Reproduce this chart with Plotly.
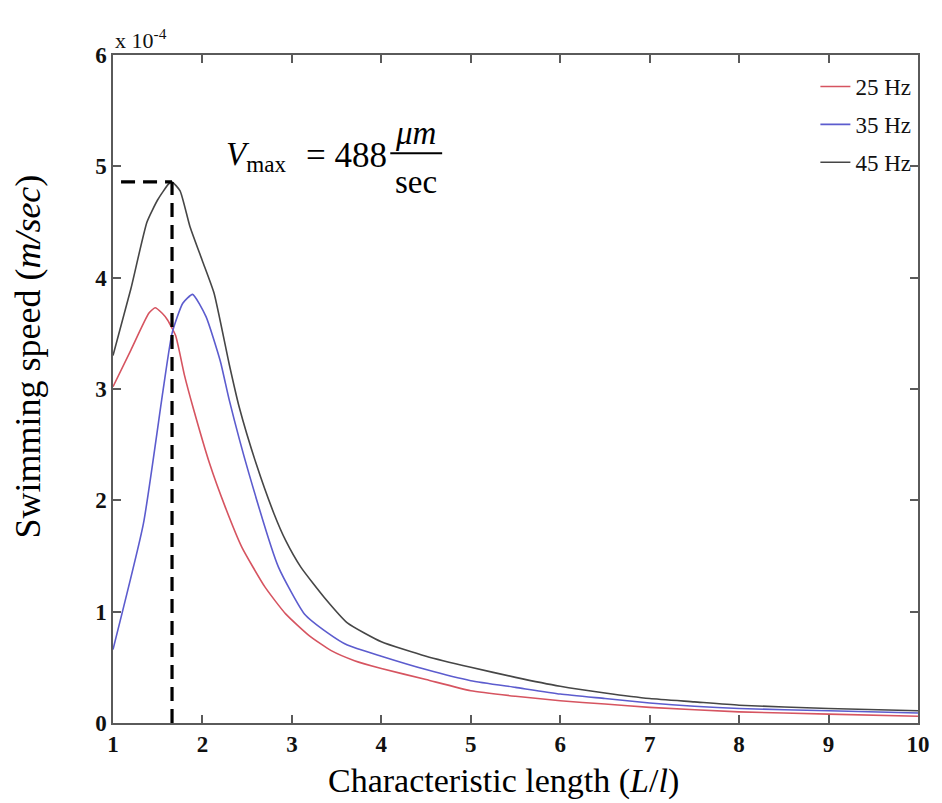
import plotly.graph_objects as go

# Data (swimming speed in units of 1e-4 m/s)
x_45 = [1.0, 1.2, 1.38, 1.5, 1.62, 1.66, 1.75, 1.86, 2.0, 2.13, 2.3, 2.41, 2.6, 2.8, 2.93, 3.1, 3.36, 3.62,
        4.0, 4.5, 5.0, 5.5, 6.0, 6.5, 7.0, 7.5, 8.0, 9.0, 10.0]
y_45 = [3.30, 3.90, 4.50, 4.70, 4.84, 4.86, 4.78, 4.46, 4.15, 3.86, 3.22, 2.84, 2.33, 1.88, 1.64, 1.40, 1.13, 0.90,
        0.73, 0.60, 0.50, 0.41, 0.33, 0.27, 0.22, 0.19, 0.16, 0.13, 0.11]

x_25 = [1.0, 1.2, 1.4, 1.47, 1.55, 1.61, 1.7, 1.8, 1.9, 2.08, 2.25, 2.44, 2.7, 2.93, 3.2, 3.44, 3.7,
        4.0, 4.5, 5.0, 5.5, 6.0, 6.5, 7.0, 8.0, 9.0, 10.0]
y_25 = [3.02, 3.35, 3.68, 3.73, 3.68, 3.62, 3.48, 3.12, 2.82, 2.33, 1.95, 1.58, 1.22, 0.98, 0.78, 0.65, 0.56,
        0.49, 0.39, 0.29, 0.24, 0.20, 0.17, 0.14, 0.10, 0.08, 0.06]

x_35 = [1.0, 1.34, 1.56, 1.66, 1.78, 1.89, 2.04, 2.2, 2.3, 2.52, 2.85, 3.14, 3.4, 3.62,
        4.0, 4.5, 5.0, 5.5, 6.0, 6.5, 7.0, 7.5, 8.0, 9.0, 10.0]
y_35 = [0.66, 1.79, 2.99, 3.50, 3.77, 3.85, 3.65, 3.25, 2.90, 2.24, 1.40, 0.98, 0.81, 0.70,
        0.60, 0.48, 0.38, 0.32, 0.26, 0.22, 0.18, 0.15, 0.13, 0.11, 0.09]

x_ticks = [1, 2, 3, 4, 5, 6, 7, 8, 9, 10]
y_ticks = [0, 1, 2, 3, 4, 5, 6]
v_max_label = 488

SERIF = "Liberation Serif"

fig = go.Figure()
series = [("25 Hz", x_25, y_25, "rgb(214,84,96)"),
          ("35 Hz", x_35, y_35, "rgb(92,92,206)"),
          ("45 Hz", x_45, y_45, "rgb(70,70,70)")]
for name, xs, ys, col in series:
    fig.add_trace(go.Scatter(x=xs, y=ys, mode="lines", name=name, legendgroup=name,
                             line=dict(color=col, width=1.6, shape="spline", smoothing=0.5)))

# peak of 45 Hz curve
i_pk = max(range(len(y_45)), key=lambda i: y_45[i])
x_pk, y_pk = x_45[i_pk], y_45[i_pk]

dash_line = dict(color="black", width=3.2, dash="14px,8px")
fig.add_trace(go.Scatter(x=[x_pk, x_pk], y=[0, y_pk], mode="lines", showlegend=False, line=dash_line))
fig.add_trace(go.Scatter(x=[1.09, x_pk], y=[y_pk, y_pk], mode="lines", showlegend=False, line=dash_line))

axis_common = dict(showline=True, linecolor="rgb(90,90,90)", linewidth=1.5, mirror="ticks",
                   ticks="inside", ticklen=8, tickcolor="rgb(90,90,90)", tickwidth=1.5,
                   showgrid=False, zeroline=False,
                   tickfont=dict(family=SERIF, size=23, color="#111", weight="bold"))

fig.update_xaxes(range=[1, 10], tickvals=x_ticks, ticktext=[str(v) for v in x_ticks], **axis_common)
fig.update_yaxes(range=[0, 6], tickvals=y_ticks, ticktext=[str(v) for v in y_ticks], **axis_common)

ann_font = dict(family=SERIF, size=33, color="black")
fig.update_layout(
    width=942, height=803,
    margin=dict(l=113, r=14, t=55, b=80),
    plot_bgcolor="white", paper_bgcolor="white",
    legend=dict(x=0.998, y=0.985, xanchor="right", yanchor="top",
                font=dict(family=SERIF, size=23, color="#111"),
                bgcolor="rgba(255,255,255,0)", borderwidth=0, tracegroupgap=5),
    annotations=[
        dict(xref="paper", yref="paper", x=0.0, y=1.0, xanchor="left", yanchor="bottom",
             text="x 10<sup>-4</sup>", showarrow=False,
             font=dict(family=SERIF, size=22, color="#111")),
        # axis titles
        dict(xref="paper", yref="paper", x=0.485, y=-0.087, xanchor="center", yanchor="middle",
             text="Characteristic length (<i>L</i>/<i>l</i>)", showarrow=False,
             font=dict(family=SERIF, size=34, color="black")),
        dict(xref="paper", yref="paper", x=-0.106, y=0.548, xanchor="center", yanchor="middle",
             text="Swimming speed (<i>m/sec</i>)", showarrow=False, textangle=-90,
             font=dict(family=SERIF, size=36, color="black")),
        # V_max label
        dict(xref="x", yref="y", x=2.24, y=5.09, xanchor="left", yanchor="middle",
             text="<i>V</i><sub>max</sub>", showarrow=False, font=ann_font),
        dict(xref="x", yref="y", x=4.09, y=5.10, xanchor="right", yanchor="middle",
             text="= " + str(v_max_label), showarrow=False, font=dict(family=SERIF, size=35, color="black")),
        dict(xref="x", yref="y", x=4.38, y=5.30, xanchor="center", yanchor="middle",
             text="<i>μm</i>", showarrow=False, font=ann_font),
        dict(xref="x", yref="y", x=4.39, y=4.86, xanchor="center", yanchor="middle",
             text="sec", showarrow=False, font=ann_font),
    ],
    shapes=[dict(type="line", xref="x", yref="y", x0=4.10, x1=4.68, y0=5.117, y1=5.117,
                 line=dict(color="black", width=2))],
)

fig.write_html("out.html")
